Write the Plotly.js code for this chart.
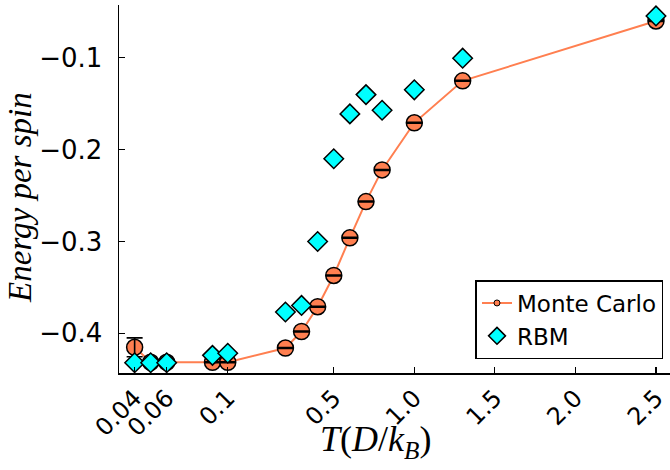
<!DOCTYPE html>
<html>
<head>
<meta charset="utf-8">
<script src="https://cdn.plot.ly/plotly-3.0.1.min.js"></script>
<style>
html,body{margin:0;padding:0;background:#fff;overflow:hidden;}
#chart{width:670px;height:470px;}
</style>
</head>
<body>
<div id="chart"></div>
<script>
// ---- data (temperatures in D/k_B, energies per spin) ----
const temps = [0.04, 0.05, 0.06, 0.09, 0.1, 0.2, 0.3, 0.4, 0.5, 0.6, 0.7, 0.8, 1.0, 1.3, 2.5];
const mcEnergy = [-0.4152, -0.4315, -0.4315, -0.4315, -0.4315, -0.416, -0.398, -0.371, -0.337, -0.296, -0.2565, -0.222, -0.1707, -0.125, -0.0598];
const mcError = [0.0103, 0.0005, 0.0005, 0.0005, 0.0005, 0.0005, 0.0005, 0.0005, 0.0005, 0.0005, 0.0005, 0.0005, 0.0005, 0.0005, 0.0005];
const rbmEnergy = [-0.432, -0.432, -0.432, -0.424, -0.4217, -0.3768, -0.3696, -0.300, -0.2098, -0.161, -0.140, -0.157, -0.1348, -0.1003, -0.0543];
const tickTemps = [0.04, 0.06, 0.1, 0.5, 1.0, 1.5, 2.0, 2.5];
const tickLabels = ['0.04', '0.06', '0.1', '0.5', '1.0', '1.5', '2.0', '2.5'];
const yTickVals = [-0.4, -0.3, -0.2, -0.1];
const yTickLabels = ['\u22120.4', '\u22120.3', '\u22120.2', '\u22120.1'];

// ---- broken (piecewise linear) temperature axis: low-T region is stretched ----
const knotT = [0.04, 0.06, 0.1, 0.2];
const knotU = [-0.736, -0.537, -0.158, 0.2];
function axisPos(T) {
  if (T >= knotT[knotT.length - 1]) return T;
  for (let i = 0; i < knotT.length - 1; i++) {
    if (T <= knotT[i + 1]) {
      const f = (T - knotT[i]) / (knotT[i + 1] - knotT[i]);
      return knotU[i] + f * (knotU[i + 1] - knotU[i]);
    }
  }
  return T;
}
const xs = temps.map(axisPos);

const coral = 'rgb(255,127,80)';
const cyan = 'rgb(0,255,255)';

const traces = [
  {
    x: xs, y: mcEnergy, mode: 'lines+markers', name: 'Monte Carlo', showlegend: false,
    line: {color: coral, width: 2},
    marker: {symbol: 'circle', size: 16, color: coral, line: {color: 'black', width: 1.5}}
  },
  {
    x: xs, y: mcEnergy, mode: 'markers', name: 'MC error', showlegend: false, hoverinfo: 'skip',
    marker: {size: 1, opacity: 0},
    error_y: {type: 'data', array: mcError, visible: true, color: 'black', thickness: 1.6, width: 8}
  },
  {
    x: xs, y: rbmEnergy, mode: 'markers', name: 'RBM', showlegend: false,
    marker: {symbol: 'diamond', size: 15, color: cyan, line: {color: 'black', width: 1.5}}
  },
  // legend entries
  {
    x: [null], y: [null], mode: 'lines+markers', name: 'Monte Carlo',
    line: {color: coral, width: 2},
    marker: {symbol: 'circle', size: 6, color: coral, line: {color: 'black', width: 1}}
  },
  {
    x: [null], y: [null], mode: 'markers', name: 'RBM',
    marker: {symbol: 'diamond', size: 13, color: cyan, line: {color: 'black', width: 1.5}}
  }
];

const layout = {
  width: 670, height: 470,
  margin: {l: 119, r: 0, t: 5, b: 97},
  paper_bgcolor: '#fff', plot_bgcolor: '#fff',
  showlegend: true,
  font: {family: 'DejaVu Sans', color: 'black'},
  xaxis: {
    range: [-0.833, 2.587],
    tickmode: 'array', tickvals: tickTemps.map(axisPos), ticktext: tickLabels,
    tickangle: -45, tickfont: {size: 24, family: 'DejaVu Sans', color: 'black'},
    ticks: 'inside', ticklen: 6, tickcolor: 'black', tickwidth: 1.2,
    showline: true, linecolor: 'black', linewidth: 1.5, mirror: false,
    showgrid: false, zeroline: false
  },
  yaxis: {
    range: [-0.4432, -0.0424],
    tickmode: 'array', tickvals: yTickVals, ticktext: yTickLabels,
    tickfont: {size: 26, family: 'DejaVu Sans', color: 'black'},
    ticks: 'inside', ticklen: 6, tickcolor: 'black', tickwidth: 1.2,
    ticklabelstandoff: 10,
    showline: true, linecolor: 'black', linewidth: 1.5, mirror: false,
    showgrid: false, zeroline: false
  },
  annotations: [
    {
      xref: 'paper', yref: 'paper', x: 0.466, y: -0.185, xanchor: 'center', yanchor: 'middle',
      showarrow: false,
      text: '<i>T</i>(<i>D</i>/<i>k</i><sub><i>B</i></sub>)',
      font: {family: 'Liberation Serif', size: 36, color: 'black'}
    },
    {
      xref: 'paper', yref: 'paper', x: -0.18, y: 0.478, xanchor: 'center', yanchor: 'middle',
      showarrow: false, textangle: -90,
      text: '<i>Energy per spin</i>',
      font: {family: 'Liberation Serif', size: 33, color: 'black'}
    }
  ],
  legend: {
    x: 0.647, y: 0.2527, xanchor: 'left', yanchor: 'top',
    bgcolor: 'white', bordercolor: 'black', borderwidth: 1.5,
    font: {size: 23, family: 'DejaVu Sans', color: 'black'},
    itemsizing: 'trace', tracegroupgap: 0
  }
};

Plotly.newPlot('chart', traces, layout, {staticPlot: true, displayModeBar: false});
</script>
</body>
</html>
